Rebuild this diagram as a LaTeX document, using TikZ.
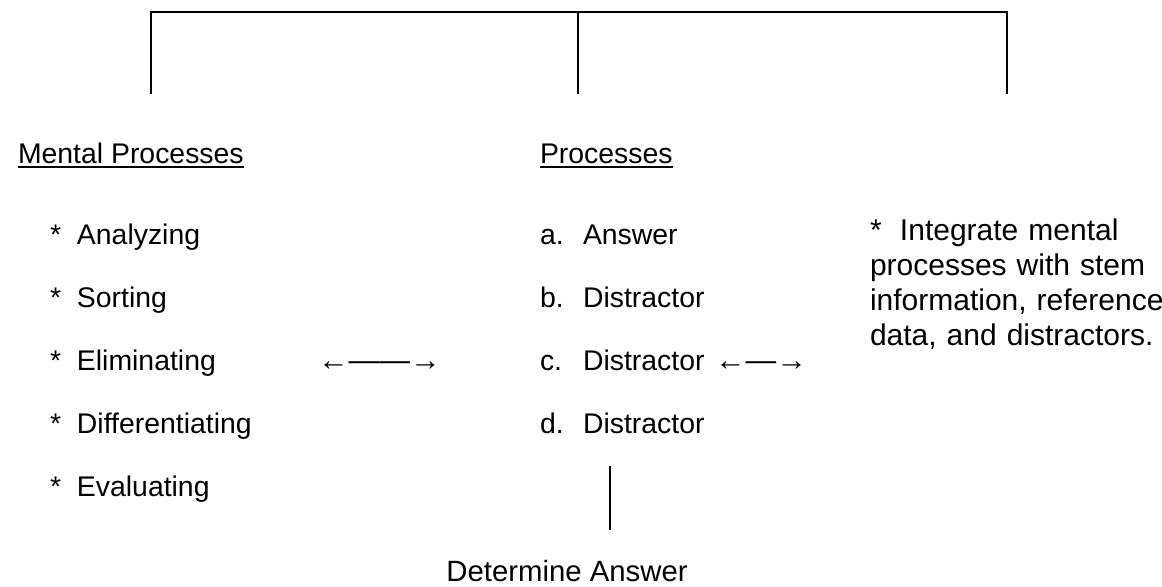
\documentclass[tikz,border=0pt]{standalone}
\usepackage{fontspec}
\setmainfont{Liberation Sans}
\begin{document}
\begin{tikzpicture}[x=0.75pt,y=-0.75pt,
  item/.style={inner sep=0pt,outer sep=0pt,anchor=base west,font=\fontsize{21.3pt}{25pt}\selectfont},
  head/.style={inner sep=0pt,outer sep=0pt,anchor=base west,font=\fontsize{21.3pt}{25pt}\selectfont},
  arrowtxt/.style={inner sep=0pt,outer sep=0pt,anchor=base west,font=\fontsize{23pt}{28pt}\selectfont},
  note/.style={inner sep=0pt,outer sep=0pt,anchor=base west,align=left,text width=228pt,font=\fontsize{22.5pt}{26.25pt}\selectfont},
  bracket/.style={line width=1.5pt},
  uline/.style={line width=1.4pt},
  thinline/.style={line width=0.8pt}]
\useasboundingbox (0,0) rectangle (1162,586);
% top bracket
\coordinate (tl) at (151,12);
\coordinate (tm) at (578,12);
\coordinate (tr) at (1007,12);
\coordinate (bl) at (151,94);
\coordinate (bm) at (578,94);
\coordinate (br) at (1007,94);
\draw[bracket] (bl) -- (tl) -- (tr) -- (br);
\draw[bracket] (tm) -- (bm);
% headings
\node[head] (mp) at (18,163) {Mental Processes};
\node[head] (pr) at (540,163) {Processes};
\draw[uline] ([yshift=-3pt]mp.base west) -- ([yshift=-3pt]mp.base east);
\draw[uline] ([yshift=-3pt]pr.base west) -- ([yshift=-3pt]pr.base east);
% left column
\node[item] (l1) at (50,244) {\makebox[20.25pt][l]{*}Analyzing};
\node[item] (l2) at (50,307) {\makebox[20.25pt][l]{*}Sorting};
\node[item] (l3) at (50,370) {\makebox[20.25pt][l]{*}Eliminating};
\node[item] (l4) at (50,433) {\makebox[20.25pt][l]{*}Differentiating};
\node[item] (l5) at (50,496) {\makebox[20.25pt][l]{*}Evaluating};
% middle column
\node[item] (m1) at (540,244) {\makebox[32.25pt][l]{a.}Answer};
\node[item] (m2) at (540,307) {\makebox[32.25pt][l]{b.}Distractor};
\node[item] (m3) at (540,370) {\makebox[32.25pt][l]{c.}Distractor};
\node[item] (m4) at (540,433) {\makebox[32.25pt][l]{d.}Distractor};
% arrows (typed as text)
\node[arrowtxt] (a1) at (318,370) {←——→};
\node[arrowtxt] (a2) at (715,370) {←—→};
% right note
\node[note] (r) at (870,240) {\makebox[22.5pt][l]{*}Integrate mental\\processes with stem\\information, reference\\data, and distractors.};
% bottom
\coordinate (vt) at (610,466);
\coordinate (vb) at (610,530);
\draw[thinline] (vt) -- (vb);
\node[inner sep=0pt,anchor=base,font=\fontsize{22pt}{26pt}\selectfont] (da) at (567,581) {Determine Answer};
\end{tikzpicture}
\end{document}
